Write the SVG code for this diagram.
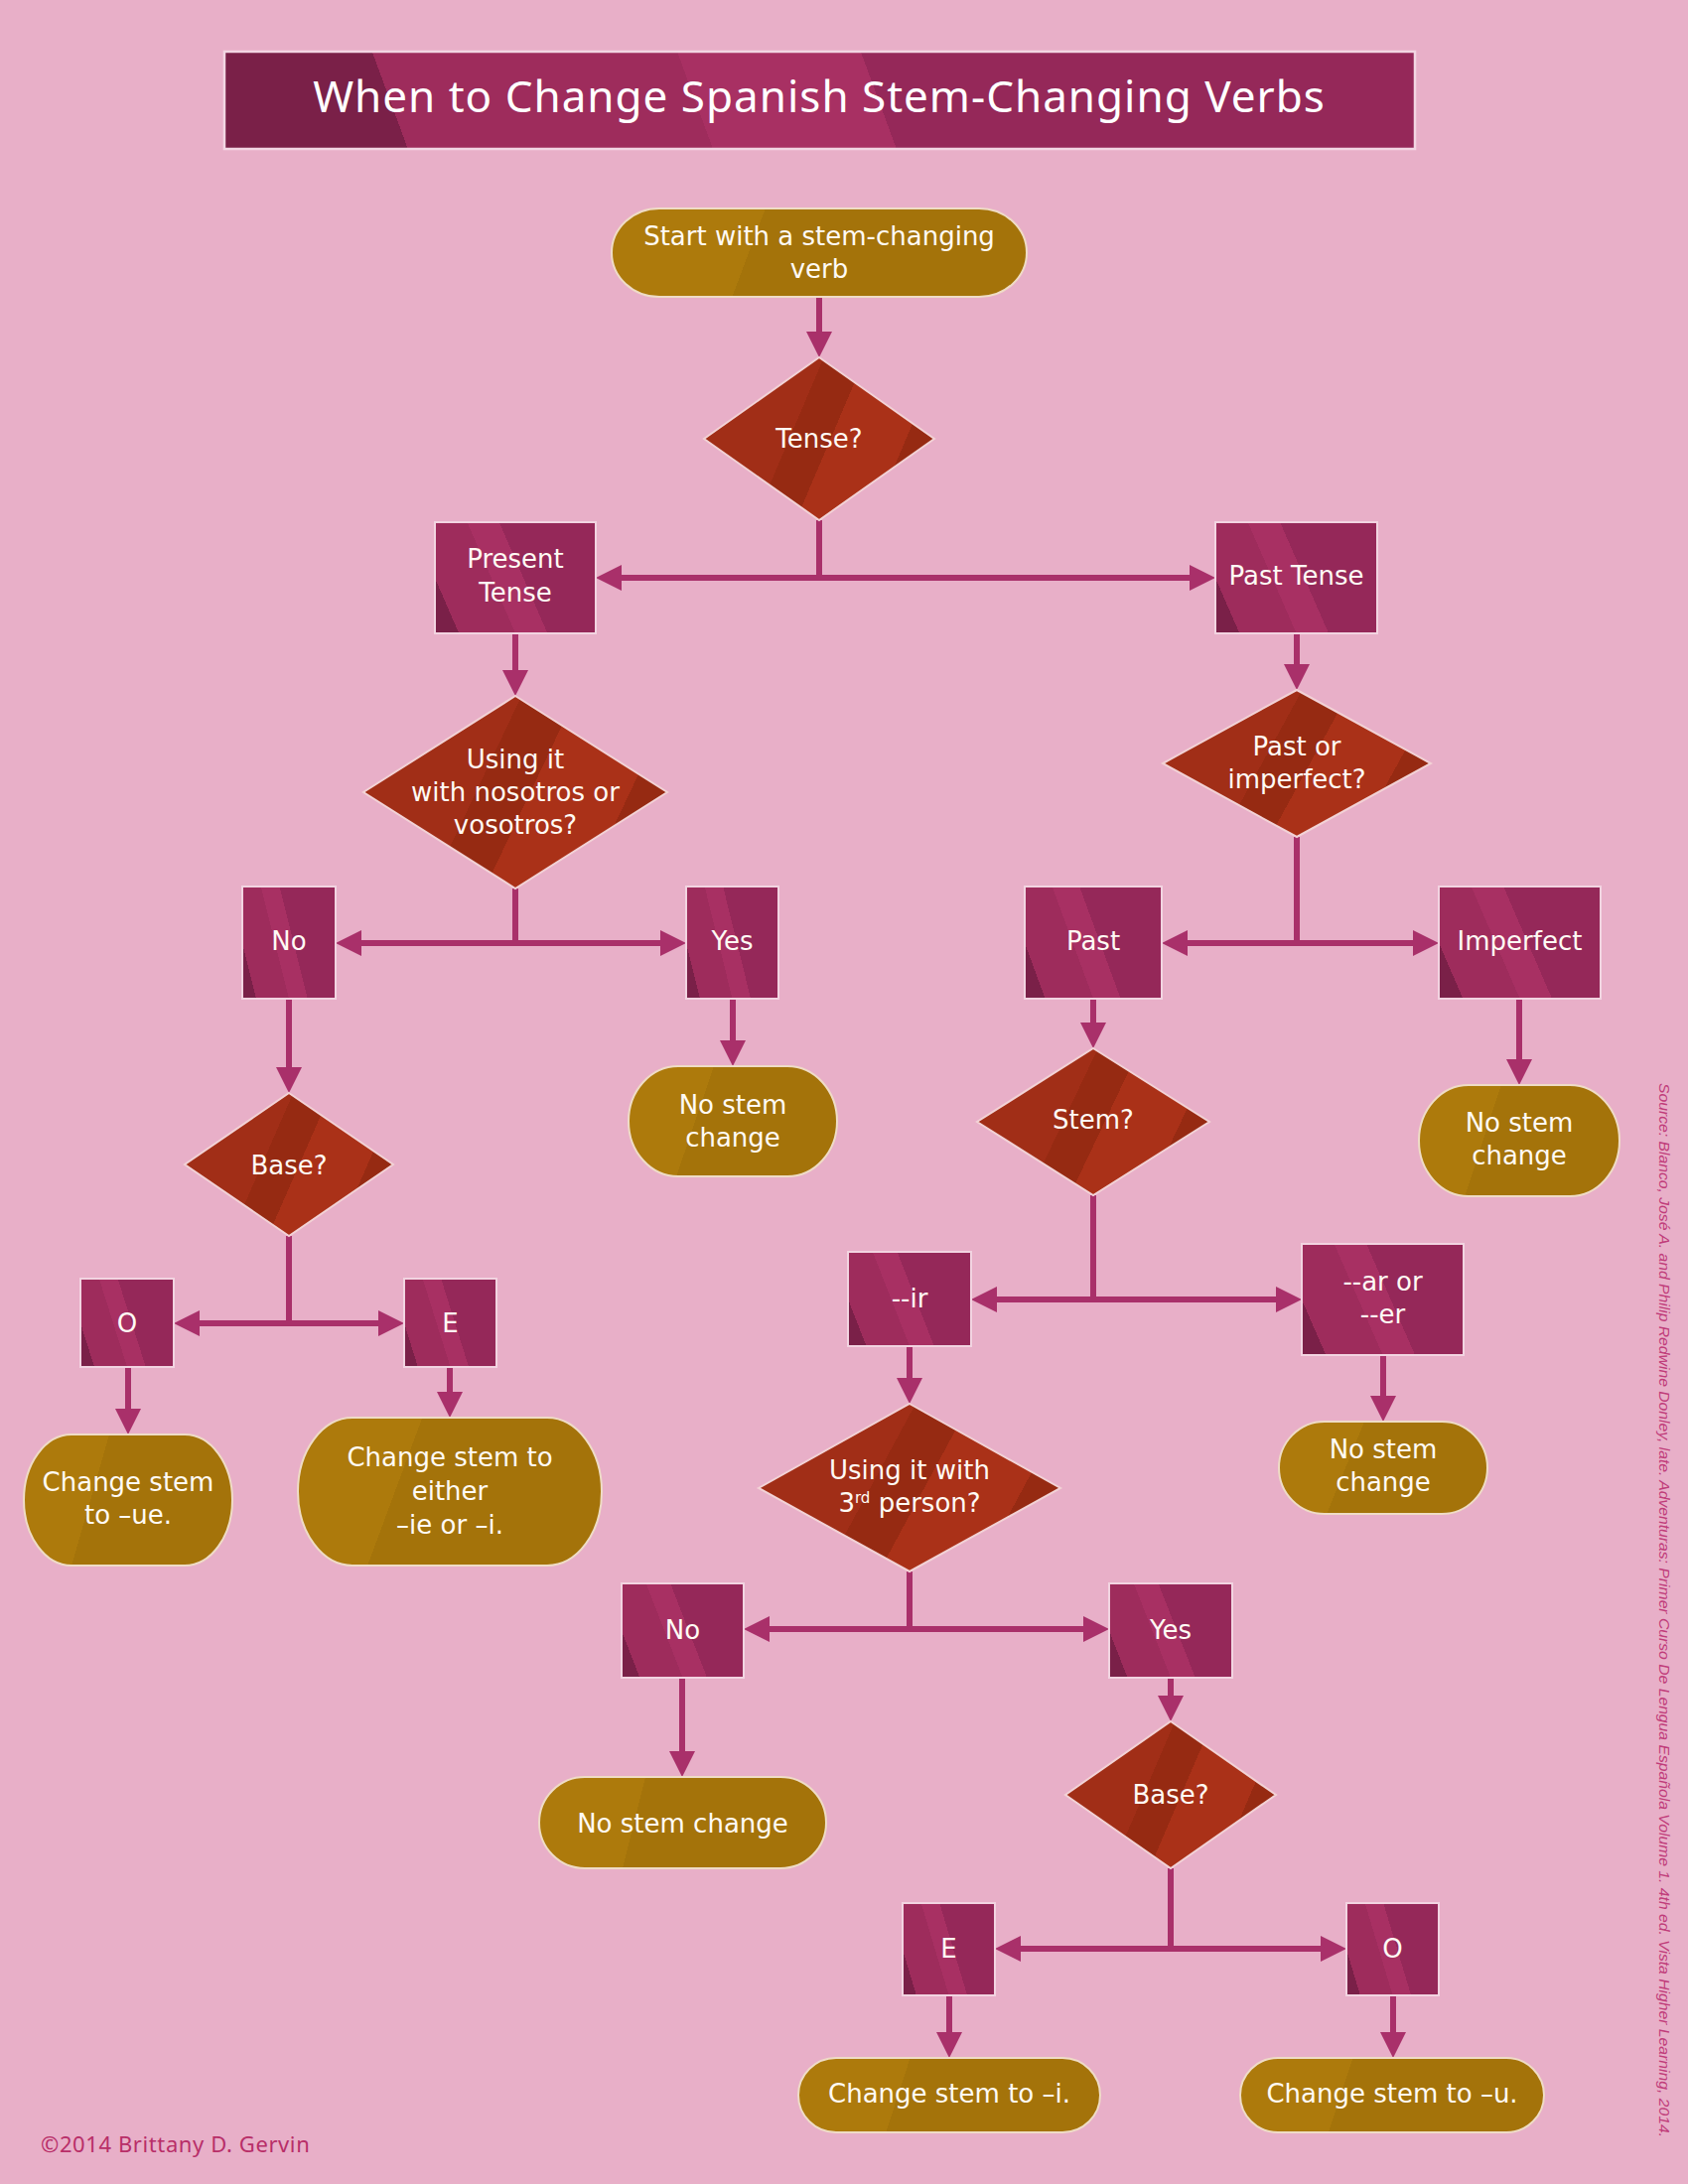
<svg xmlns="http://www.w3.org/2000/svg" width="1700" height="2200" viewBox="0 0 1700 2200">
<defs>
  <linearGradient id="gTitle" x1="0" y1="0" x2="1" y2="-0.03">
    <stop offset="0" stop-color="#7A2048"/><stop offset="0.124" stop-color="#7A2048"/>
    <stop offset="0.124" stop-color="#9E2C5C"/><stop offset="0.38" stop-color="#9E2C5C"/>
    <stop offset="0.38" stop-color="#A83063"/><stop offset="0.534" stop-color="#A83063"/>
    <stop offset="0.534" stop-color="#952859"/><stop offset="1" stop-color="#952859"/>
  </linearGradient>
  <linearGradient id="gBox" x1="0" y1="1" x2="1.193" y2="0.642">
    <stop offset="0" stop-color="#7A2048"/><stop offset="0.115" stop-color="#7A2048"/>
    <stop offset="0.115" stop-color="#9E2C5C"/><stop offset="0.385" stop-color="#9E2C5C"/>
    <stop offset="0.385" stop-color="#A83063"/><stop offset="0.538" stop-color="#A83063"/>
    <stop offset="0.538" stop-color="#952859"/><stop offset="1" stop-color="#952859"/>
  </linearGradient>
  <linearGradient id="gDia" x1="0" y1="0" x2="1.193" y2="0.358">
    <stop offset="0" stop-color="#A12E17"/><stop offset="0.40" stop-color="#A12E17"/>
    <stop offset="0.40" stop-color="#962A12"/><stop offset="0.538" stop-color="#962A12"/>
    <stop offset="0.538" stop-color="#AA3118"/><stop offset="0.79" stop-color="#AA3118"/>
    <stop offset="0.79" stop-color="#962A12"/><stop offset="1" stop-color="#962A12"/>
  </linearGradient>
  <linearGradient id="gPillW" x1="0" y1="0" x2="1.073" y2="0.086">
    <stop offset="0" stop-color="#AD7A0C"/><stop offset="0.343" stop-color="#AD7A0C"/>
    <stop offset="0.343" stop-color="#A4730A"/><stop offset="1" stop-color="#A4730A"/>
  </linearGradient>
  <linearGradient id="gPillT" x1="0" y1="0" x2="1.143" y2="0.206">
    <stop offset="0" stop-color="#AD7A0C"/><stop offset="0.347" stop-color="#AD7A0C"/>
    <stop offset="0.347" stop-color="#A4730A"/><stop offset="1" stop-color="#A4730A"/>
  </linearGradient>
  <marker id="arr" viewBox="0 0 26 26" refX="14" refY="13" markerWidth="26" markerHeight="26" markerUnits="userSpaceOnUse" orient="auto">
    <path d="M0,0 L26,13 L0,26 Z" fill="#A9306A"/>
  </marker>
</defs>
<style>
  .bg{fill:#E8AFC8}
  .title{fill:url(#gTitle);stroke:#F2D6E3;stroke-width:2.5}
  .box{fill:url(#gBox);stroke:#F2D4E1;stroke-width:2}
  .dia{fill:url(#gDia);stroke:#F2D2D6;stroke-width:2}
  .pw{fill:url(#gPillW);stroke:#EFDCC6;stroke-width:2}
  .pt{fill:url(#gPillT);stroke:#EFDCC6;stroke-width:2}
  .t{font-family:"DejaVu Sans","Noto Sans",sans-serif;font-size:26px;fill:#FFFAF4;text-anchor:middle}
  .tt{font-family:"Noto Sans","Open Sans","DejaVu Sans",sans-serif;font-size:44px;fill:#FFFFFF;text-anchor:middle;letter-spacing:1px}
  .c{fill:none;stroke:#A9306A;stroke-width:6}
  .a{marker-end:url(#arr)}
  .copy{font-family:"Noto Sans","Open Sans","DejaVu Sans",sans-serif;font-size:22px;fill:#B82E68;letter-spacing:0.6px}
  .src{font-family:"Liberation Sans Narrow","Liberation Sans",Arial,sans-serif;font-size:15px;font-style:italic;fill:#C03C7A}
</style>
<rect class="bg" x="0" y="0" width="1700" height="2200"/>

<g id="title">
  <rect class="title" x="226" y="52" width="1199" height="98"/>
  <text class="tt" x="825" y="113">When to Change Spanish Stem-Changing Verbs</text>
</g>

<g id="connectors">
  <path class="c a" d="M825,299 V348"/>
  <path class="c" d="M825,524 V582"/>
  <path class="c a" d="M825,582 H612"/>
  <path class="c a" d="M825,582 H1212"/>
  <path class="c a" d="M519,638 V689"/>
  <path class="c a" d="M1306,638 V683"/>
  <path class="c" d="M519,895 V950"/>
  <path class="c a" d="M519,950 H350"/>
  <path class="c a" d="M519,950 H679"/>
  <path class="c a" d="M291,1006 V1089"/>
  <path class="c a" d="M738,1006 V1062"/>
  <path class="c" d="M291,1245 V1333"/>
  <path class="c a" d="M291,1333 H187"/>
  <path class="c a" d="M291,1333 H395"/>
  <path class="c a" d="M129,1377 V1433"/>
  <path class="c a" d="M453,1377 V1416"/>
  <path class="c" d="M1306,843 V950"/>
  <path class="c a" d="M1306,950 H1182"/>
  <path class="c a" d="M1306,950 H1437"/>
  <path class="c a" d="M1101,1006 V1044"/>
  <path class="c a" d="M1530,1006 V1081"/>
  <path class="c" d="M1101,1204 V1309"/>
  <path class="c a" d="M1101,1309 H990"/>
  <path class="c a" d="M1101,1309 H1299"/>
  <path class="c a" d="M916,1356 V1402"/>
  <path class="c a" d="M1393,1365 V1420"/>
  <path class="c" d="M916,1583 V1641"/>
  <path class="c a" d="M916,1641 H761"/>
  <path class="c a" d="M916,1641 H1105"/>
  <path class="c a" d="M687,1690 V1778"/>
  <path class="c a" d="M1179,1690 V1722"/>
  <path class="c" d="M1179,1882 V1963"/>
  <path class="c a" d="M1179,1963 H1014"/>
  <path class="c a" d="M1179,1963 H1344"/>
  <path class="c a" d="M956,2010 V2061"/>
  <path class="c a" d="M1403,2010 V2061"/>
</g>

<g id="start">
  <rect class="pw" x="616" y="210" width="418" height="89" rx="48" ry="44.5"/>
  <text class="t" x="825" y="247">Start with a stem-changing</text>
  <text class="t" x="825" y="280">verb</text>
</g>
<g id="tense">
  <polygon class="dia" points="825,360 941,442 825,524 709,442"/>
  <text class="t" x="825" y="451">Tense?</text>
</g>
<g id="present">
  <rect class="box" x="438" y="526" width="162" height="112"/>
  <text class="t" x="519" y="572">Present</text>
  <text class="t" x="519" y="606">Tense</text>
</g>
<g id="pasttense">
  <rect class="box" x="1224" y="526" width="163" height="112"/>
  <text class="t" x="1305.5" y="589">Past Tense</text>
</g>
<g id="nosotros">
  <polygon class="dia" points="519,701 672,798 519,895 366,798"/>
  <text class="t" x="519" y="774">Using it</text>
  <text class="t" x="519" y="807">with nosotros or</text>
  <text class="t" x="519" y="840">vosotros?</text>
</g>
<g id="pastorimperfect">
  <polygon class="dia" points="1306,695 1441,769 1306,843 1171,769"/>
  <text class="t" x="1306" y="761">Past or</text>
  <text class="t" x="1306" y="794">imperfect?</text>
</g>
<g id="no1">
  <rect class="box" x="244" y="893" width="94" height="113"/>
  <text class="t" x="291" y="957">No</text>
</g>
<g id="yes1">
  <rect class="box" x="691" y="893" width="93" height="113"/>
  <text class="t" x="737.5" y="957">Yes</text>
</g>
<g id="nochange1">
  <rect class="pt" x="633" y="1074" width="210" height="111" rx="50" ry="55.5"/>
  <text class="t" x="738" y="1122">No stem</text>
  <text class="t" x="738" y="1155">change</text>
</g>
<g id="base1">
  <polygon class="dia" points="291,1101 396,1173 291,1245 186,1173"/>
  <text class="t" x="291" y="1183">Base?</text>
</g>
<g id="o1">
  <rect class="box" x="81" y="1288" width="94" height="89"/>
  <text class="t" x="128" y="1342">O</text>
</g>
<g id="e1">
  <rect class="box" x="407" y="1288" width="93" height="89"/>
  <text class="t" x="453.5" y="1342">E</text>
</g>
<g id="ue">
  <rect class="pt" x="24" y="1445" width="210" height="132" rx="48" ry="66"/>
  <text class="t" x="129" y="1502">Change stem</text>
  <text class="t" x="129" y="1535">to –ue.</text>
</g>
<g id="ieori">
  <rect class="pt" x="300" y="1428" width="306" height="149" rx="55" ry="74.5"/>
  <text class="t" x="453" y="1477">Change stem to</text>
  <text class="t" x="453" y="1511">either</text>
  <text class="t" x="453" y="1545">–ie or –i.</text>
</g>
<g id="past">
  <rect class="box" x="1032" y="893" width="138" height="113"/>
  <text class="t" x="1101" y="957">Past</text>
</g>
<g id="imperfect">
  <rect class="box" x="1449" y="893" width="163" height="113"/>
  <text class="t" x="1530.5" y="957">Imperfect</text>
</g>
<g id="nochange2">
  <rect class="pt" x="1429" y="1093" width="202" height="112" rx="50" ry="56"/>
  <text class="t" x="1530" y="1140">No stem</text>
  <text class="t" x="1530" y="1173">change</text>
</g>
<g id="stem">
  <polygon class="dia" points="1101,1056 1218,1130 1101,1204 984,1130"/>
  <text class="t" x="1101" y="1137">Stem?</text>
</g>
<g id="ir">
  <rect class="box" x="854" y="1261" width="124" height="95"/>
  <text class="t" x="916" y="1317">--ir</text>
</g>
<g id="arer">
  <rect class="box" x="1311" y="1253" width="163" height="112"/>
  <text class="t" x="1392.5" y="1300">--ar or</text>
  <text class="t" x="1392.5" y="1333">--er</text>
</g>
<g id="nochange3">
  <rect class="pt" x="1288" y="1432" width="210" height="93" rx="46" ry="46.5"/>
  <text class="t" x="1393" y="1469">No stem</text>
  <text class="t" x="1393" y="1502">change</text>
</g>
<g id="thirdperson">
  <polygon class="dia" points="916,1414 1068,1499 916,1583 764,1499"/>
  <text class="t" x="916" y="1490">Using it with</text>
  <text class="t" x="916" y="1523">3<tspan font-size="15" baseline-shift="super">rd</tspan> person?</text>
</g>
<g id="no2">
  <rect class="box" x="626" y="1595" width="123" height="95"/>
  <text class="t" x="687.5" y="1651">No</text>
</g>
<g id="yes2">
  <rect class="box" x="1117" y="1595" width="124" height="95"/>
  <text class="t" x="1179" y="1651">Yes</text>
</g>
<g id="nochange4">
  <rect class="pw" x="543" y="1790" width="289" height="92" rx="46" ry="46"/>
  <text class="t" x="687.5" y="1846">No stem change</text>
</g>
<g id="base2">
  <polygon class="dia" points="1179,1734 1285,1808 1179,1882 1073,1808"/>
  <text class="t" x="1179" y="1817">Base?</text>
</g>
<g id="e2">
  <rect class="box" x="909" y="1917" width="93" height="93"/>
  <text class="t" x="955.5" y="1972">E</text>
</g>
<g id="o2">
  <rect class="box" x="1356" y="1917" width="93" height="93"/>
  <text class="t" x="1402.5" y="1972">O</text>
</g>
<g id="toi">
  <rect class="pw" x="804" y="2073" width="304" height="75" rx="38" ry="37.5"/>
  <text class="t" x="956" y="2118">Change stem to –i.</text>
</g>
<g id="tou">
  <rect class="pw" x="1249" y="2073" width="306" height="75" rx="38" ry="37.5"/>
  <text class="t" x="1402" y="2118">Change stem to –u.</text>
</g>

<text class="copy" x="41" y="2168">©2014 Brittany D. Gervin</text>
<text class="src" transform="translate(1671,1091) rotate(90)" textLength="1062" lengthAdjust="spacingAndGlyphs">Source: Blanco, José A. and Philip Redwine Donley, late. Adventuras: Primer Curso De Lengua Española Volume 1. 4th ed. Vista Higher Learning, 2014.</text>
</svg>
